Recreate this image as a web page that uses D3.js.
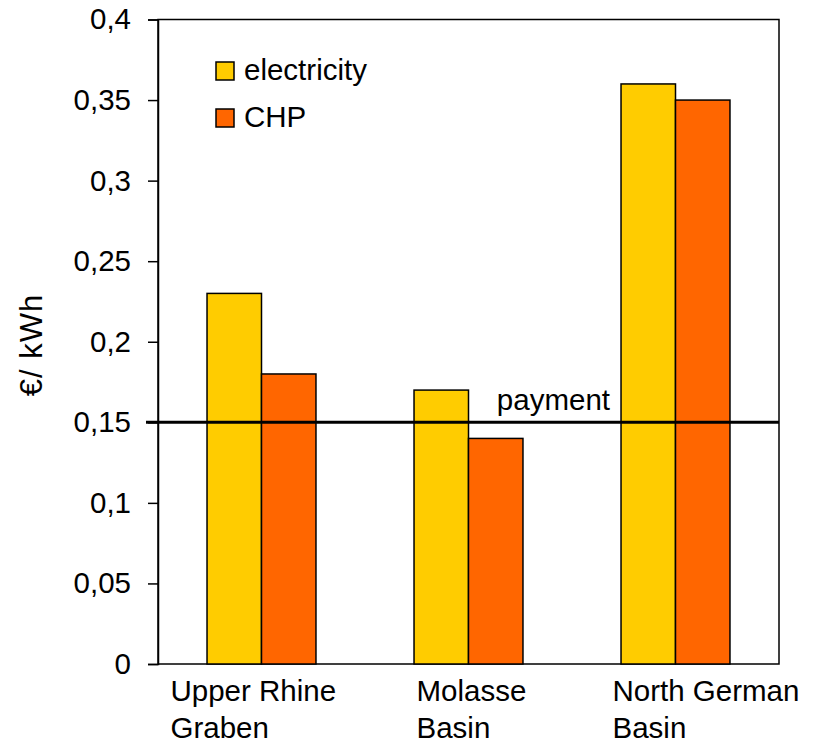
<!DOCTYPE html>
<html>
<head>
<meta charset="utf-8">
<script src="https://cdn.jsdelivr.net/npm/d3@7"></script>
<style>
  body { margin: 0; background: #fff; }
  text { font-family: "Liberation Sans", Arial, sans-serif; fill: #000; }
</style>
</head>
<body>
<svg id="chart" width="817" height="747"></svg>
<script>
// data
var basins = ["Upper Rhine Graben", "Molasse Basin", "North German Basin"];
var basinLines = [["Upper Rhine", "Graben"], ["Molasse", "Basin"], ["North German", "Basin"]];
var series = ["electricity", "CHP"];
var electricity = [0.23, 0.17, 0.36];
var chp = [0.18, 0.14, 0.35];
var payment = 0.15;
var yTicks = [0, 0.05, 0.1, 0.15, 0.2, 0.25, 0.3, 0.35, 0.4];

var colors = {electricity: "#ffcc00", CHP: "#ff6600"};
var fs = 29.5;

var svg = d3.select("#chart");
var plotLeft = 158, plotRight = 779, plotTop = 19.5, plotBottom = 664;

var y = d3.scaleLinear().domain([0, 0.4]).range([plotBottom, plotTop]);
var x0 = d3.scaleBand().domain(basins).range([plotLeft, plotRight]);
var x1 = d3.scaleBand().domain(series).range([0, x0.bandwidth()]).paddingOuter(0.9);

var rows = basins.map(function(b, i) {
  return {basin: b, values: [
    {key: "electricity", value: electricity[i]},
    {key: "CHP", value: chp[i]}
  ]};
});

// plot frame
svg.append("rect")
  .attr("x", plotLeft).attr("y", plotTop)
  .attr("width", plotRight - plotLeft).attr("height", plotBottom - plotTop)
  .attr("fill", "none").attr("stroke", "#000").attr("stroke-width", 1.5);

// bars
var g = svg.selectAll(".group")
  .data(rows)
  .enter().append("g")
    .attr("class", "group")
    .attr("transform", function(d) { return "translate(" + x0(d.basin) + ",0)"; });

g.selectAll("rect")
  .data(function(d) { return d.values; })
  .enter().append("rect")
    .attr("x", function(d) { return x1(d.key); })
    .attr("y", function(d) { return y(d.value); })
    .attr("width", x1.bandwidth())
    .attr("height", function(d) { return plotBottom - y(d.value); })
    .attr("fill", function(d) { return colors[d.key]; })
    .attr("stroke", "#000")
    .attr("stroke-width", 1.5);

// y axis
var yAxis = d3.axisLeft(y)
  .tickValues(yTicks)
  .tickSize(10)
  .tickPadding(17)
  .tickFormat(function(d) { return d3.format("")(d).replace(".", ","); });

svg.append("g")
  .attr("transform", "translate(" + plotLeft + ",0)")
  .call(yAxis)
  .call(function(a) {
    a.select(".domain").attr("stroke-width", 1.5);
    a.selectAll(".tick line").attr("stroke-width", 1.5);
    a.selectAll("text").style("font-size", fs + "px").style("font-family", "Liberation Sans, Arial, sans-serif");
  });

// payment line
svg.append("line")
  .attr("x1", plotLeft - 12).attr("x2", plotRight)
  .attr("y1", y(payment)).attr("y2", y(payment))
  .attr("stroke", "#000").attr("stroke-width", 3);

svg.append("text")
  .attr("x", 610).attr("y", y(payment) - 12)
  .attr("text-anchor", "end")
  .style("font-size", fs + "px")
  .text("payment");

// y title
svg.append("text")
  .attr("transform", "translate(42,345) rotate(-90)")
  .attr("text-anchor", "middle")
  .style("font-size", "31px")
  .style("letter-spacing", "1px")
  .text("€/ kWh");

// x labels, lines left-aligned, shifted from the group centre as in the original
var labelShift = [-91, -52, -63];
basinLines.forEach(function(lines, i) {
  var lx = x0(basins[i]) + x0.bandwidth() / 2 + labelShift[i];
  var t = svg.append("text").style("font-size", fs + "px");
  lines.forEach(function(l, j) {
    t.append("tspan").attr("x", lx).attr("y", 701 + j * 37).text(l);
  });
});

// legend
var leg = svg.selectAll(".leg")
  .data(series)
  .enter().append("g")
    .attr("class", "leg")
    .attr("transform", function(d, i) { return "translate(216," + (62 + i * 47) + ")"; });

leg.append("rect")
  .attr("width", 18).attr("height", 18)
  .attr("fill", function(d) { return colors[d]; })
  .attr("stroke", "#000").attr("stroke-width", 1.5);

leg.append("text")
  .attr("x", 28).attr("y", 18)
  .style("font-size", fs + "px")
  .text(function(d) { return d; });
</script>
</body>
</html>
